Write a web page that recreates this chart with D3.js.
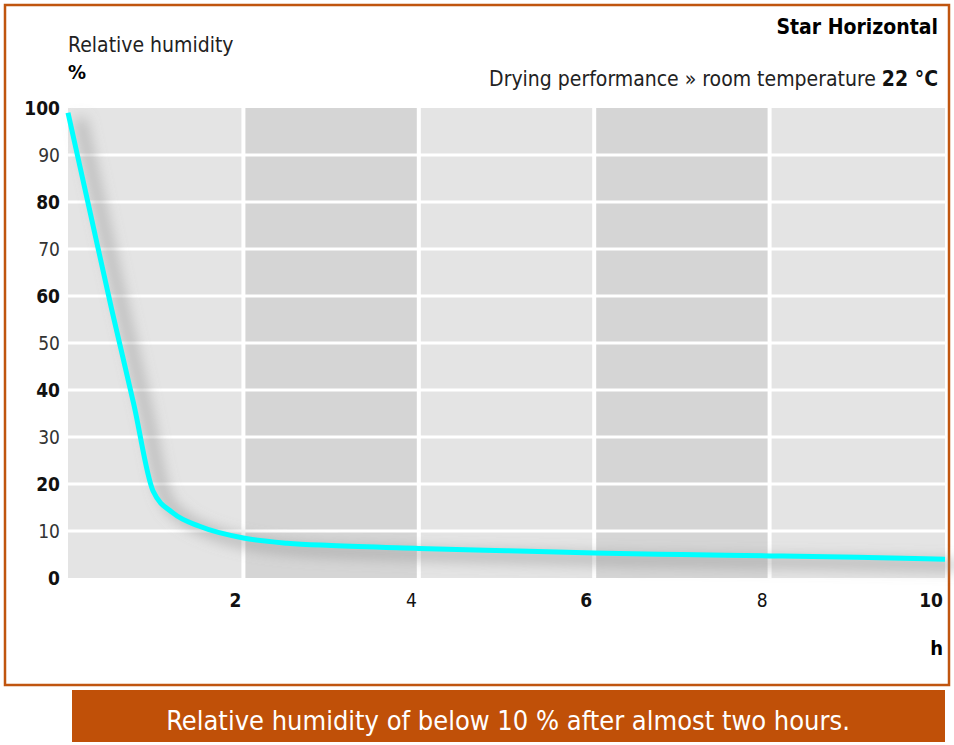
<!DOCTYPE html>
<html><head><meta charset="utf-8">
<script src="https://d3js.org/d3.v7.min.js"></script>
<style>body{margin:0;background:#fff} svg text{font-stretch:condensed}</style></head>
<body><script>
const hours=[0,0.25,0.5,0.75,0.97,1.2,1.5,2,2.5,3,4,5,6,7,8,9,10];
const humidity=[99,78,57,37,18.5,13.8,11,8.5,7.4,6.9,6.3,5.8,5.3,5.0,4.7,4.4,4.0];
const xTicks=[2,4,6,8,10];
const yTicks=[0,10,20,30,40,50,60,70,80,90,100];
const bands=[[0,2],[2,4],[4,6],[6,8],[8,10]];
const F="'DejaVu Sans Condensed','DejaVu Sans',sans-serif";
const svg=d3.select("body").append("svg").attr("width",954).attr("height",745).style("font-family",F);
const x=d3.scaleLinear().domain([0,10]).range([68,945]);
const y=d3.scaleLinear().domain([0,100]).range([578,108]);
svg.append("rect").attr("x",5).attr("y",5).attr("width",944).attr("height",680).attr("fill","none").attr("stroke","#c0550f").attr("stroke-width",2.5);
svg.append("rect").attr("x",72).attr("y",690).attr("width",873).attr("height",52).attr("fill","#c05008");
svg.append("text").attr("x",508).attr("y",730).attr("text-anchor","middle").attr("fill","#fff").attr("font-size",27).attr("font-weight",300).text("Relative humidity of below 10 % after almost two hours.");
svg.selectAll("rect.b").data(bands).join("rect").attr("x",d=>x(d[0])).attr("y",y(100)).attr("width",d=>x(d[1])-x(d[0])).attr("height",y(0)-y(100)).attr("fill",(d,i)=>i%2?"#d5d5d5":"#e4e4e4");
svg.selectAll("line.h").data(yTicks.slice(1,10)).join("line").attr("x1",x(0)).attr("x2",x(10)).attr("y1",d=>y(d)).attr("y2",d=>y(d)).attr("stroke","#fff").attr("stroke-width",3);
svg.selectAll("line.v").data(xTicks.slice(0,4)).join("line").attr("y1",y(0)).attr("y2",y(100)).attr("x1",d=>x(d)).attr("x2",d=>x(d)).attr("stroke","#fff").attr("stroke-width",4);
const defs=svg.append("defs");
defs.append("filter").attr("id","sh").attr("x","-20%").attr("y","-20%").attr("width","140%").attr("height","140%").append("feGaussianBlur").attr("stdDeviation",7);
const line=d3.line().x((d,i)=>x(hours[i])).y(d=>y(d)).curve(d3.curveMonotoneX);
svg.append("path").datum(humidity).attr("d",line).attr("fill","none").attr("stroke","#888").attr("stroke-opacity",0.55).attr("stroke-width",10).attr("transform","translate(12,6)").attr("filter","url(#sh)");
svg.append("path").datum(humidity).attr("d",line).attr("fill","none").attr("stroke","#00ffff").attr("stroke-width",5);
svg.selectAll("text.y").data(yTicks).join("text").attr("x",60).attr("y",d=>y(d)+7).attr("text-anchor","end").attr("font-size",19).attr("font-weight",d=>d%20?"normal":"bold").attr("fill",d=>d%20?"#333":"#111").text(d=>d);
svg.selectAll("text.x").data(xTicks).join("text").attr("x",d=>x(d)-2).attr("y",607).attr("text-anchor","end").attr("font-size",19).attr("font-weight",d=>d%4==2?"bold":"normal").attr("fill","#111").text(d=>d);
svg.append("text").attr("x",943).attr("y",655).attr("text-anchor","end").attr("font-size",20).attr("font-weight","bold").text("h");
svg.append("text").attr("x",68).attr("y",52).attr("font-size",21).attr("fill","#222").text("Relative humidity");
svg.append("text").attr("x",68).attr("y",79).attr("font-size",20).attr("font-weight","bold").text("%");
svg.append("text").attr("x",938).attr("y",34).attr("text-anchor","end").attr("font-size",21).attr("font-weight","bold").text("Star Horizontal");
const t=svg.append("text").attr("x",938).attr("y",86).attr("text-anchor","end").attr("font-size",21).attr("fill","#222");
t.append("tspan").text("Drying performance » room temperature ");
t.append("tspan").attr("font-weight","bold").attr("fill","#111").text("22 °C");
</script></body></html>
